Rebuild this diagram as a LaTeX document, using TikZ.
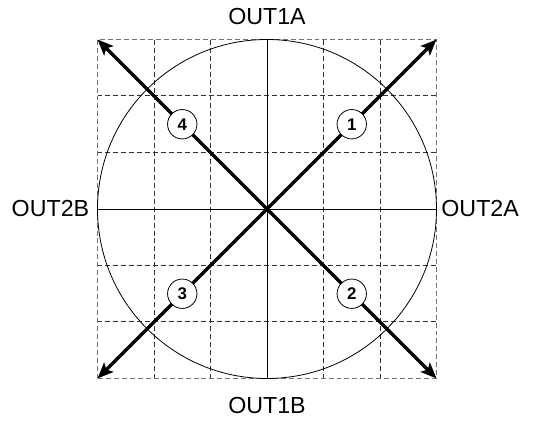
\documentclass[tikz,border=0pt]{standalone}
\usepackage{fontspec}
\setmainfont{Liberation Sans}
\usetikzlibrary{positioning, arrows.meta}

\begin{document}
\begin{tikzpicture}[
  every node/.style={font=\fontsize{11.7}{14}\selectfont},
  gridline/.style={black!80, line width=0.5pt, dash pattern=on 2.5pt off 1.5pt},
  border/.style={black!55, line width=0.7pt, dash pattern=on 2.5pt off 1.5pt},
  outarrow/.style={line width=1.7pt, -{Stealth[length=2.8mm, width=2.3mm, inset=0.6mm]}},
  numcircle/.style={draw, circle, fill=white, thin, minimum size=0.52cm, inner sep=0pt,
                    font=\fontsize{8.5}{9}\selectfont\bfseries},
]
  \useasboundingbox (-4.726,-3.752) rectangle (4.708,3.699);

  % dashed grid
  \foreach \k in {-2,-1,1,2} {
    \draw[gridline] (\k,-3) -- (\k,3);
    \draw[gridline] (-3,\k) -- (3,\k);
  }
  \draw[border] (-3,-3) rectangle (3,3);

  % axes and circle
  \draw[thin] (-3,0) -- (3,0);
  \draw[thin] (0,-3) -- (0,3);
  \draw[thin] (0,0) circle (3);

  % corners
  \coordinate (O) at (0,0);
  \coordinate (ne) at (3,3);
  \coordinate (se) at (3,-3);
  \coordinate (sw) at (-3,-3);
  \coordinate (nw) at (-3,3);

  % output arrows
  \draw[outarrow] (O) -- (ne);
  \draw[outarrow] (O) -- (se);
  \draw[outarrow] (O) -- (sw);
  \draw[outarrow] (O) -- (nw);

  % numbers
  \node[numcircle] (n1) at (1.5,1.5) {1};
  \node[numcircle] (n2) at (1.5,-1.5) {2};
  \node[numcircle] (n3) at (-1.5,-1.5) {3};
  \node[numcircle] (n4) at (-1.5,1.5) {4};

  % labels
  \node (out1a) at (0,3.4) {OUT1A};
  \node (out1b) at (0,-3.47) {OUT1B};
  \node[anchor=east, inner sep=0pt] (out2b) at (-3.14,0) {OUT2B};
  \node[anchor=west, inner sep=0pt] (out2a) at (3.08,0) {OUT2A};
\end{tikzpicture}
\end{document}
